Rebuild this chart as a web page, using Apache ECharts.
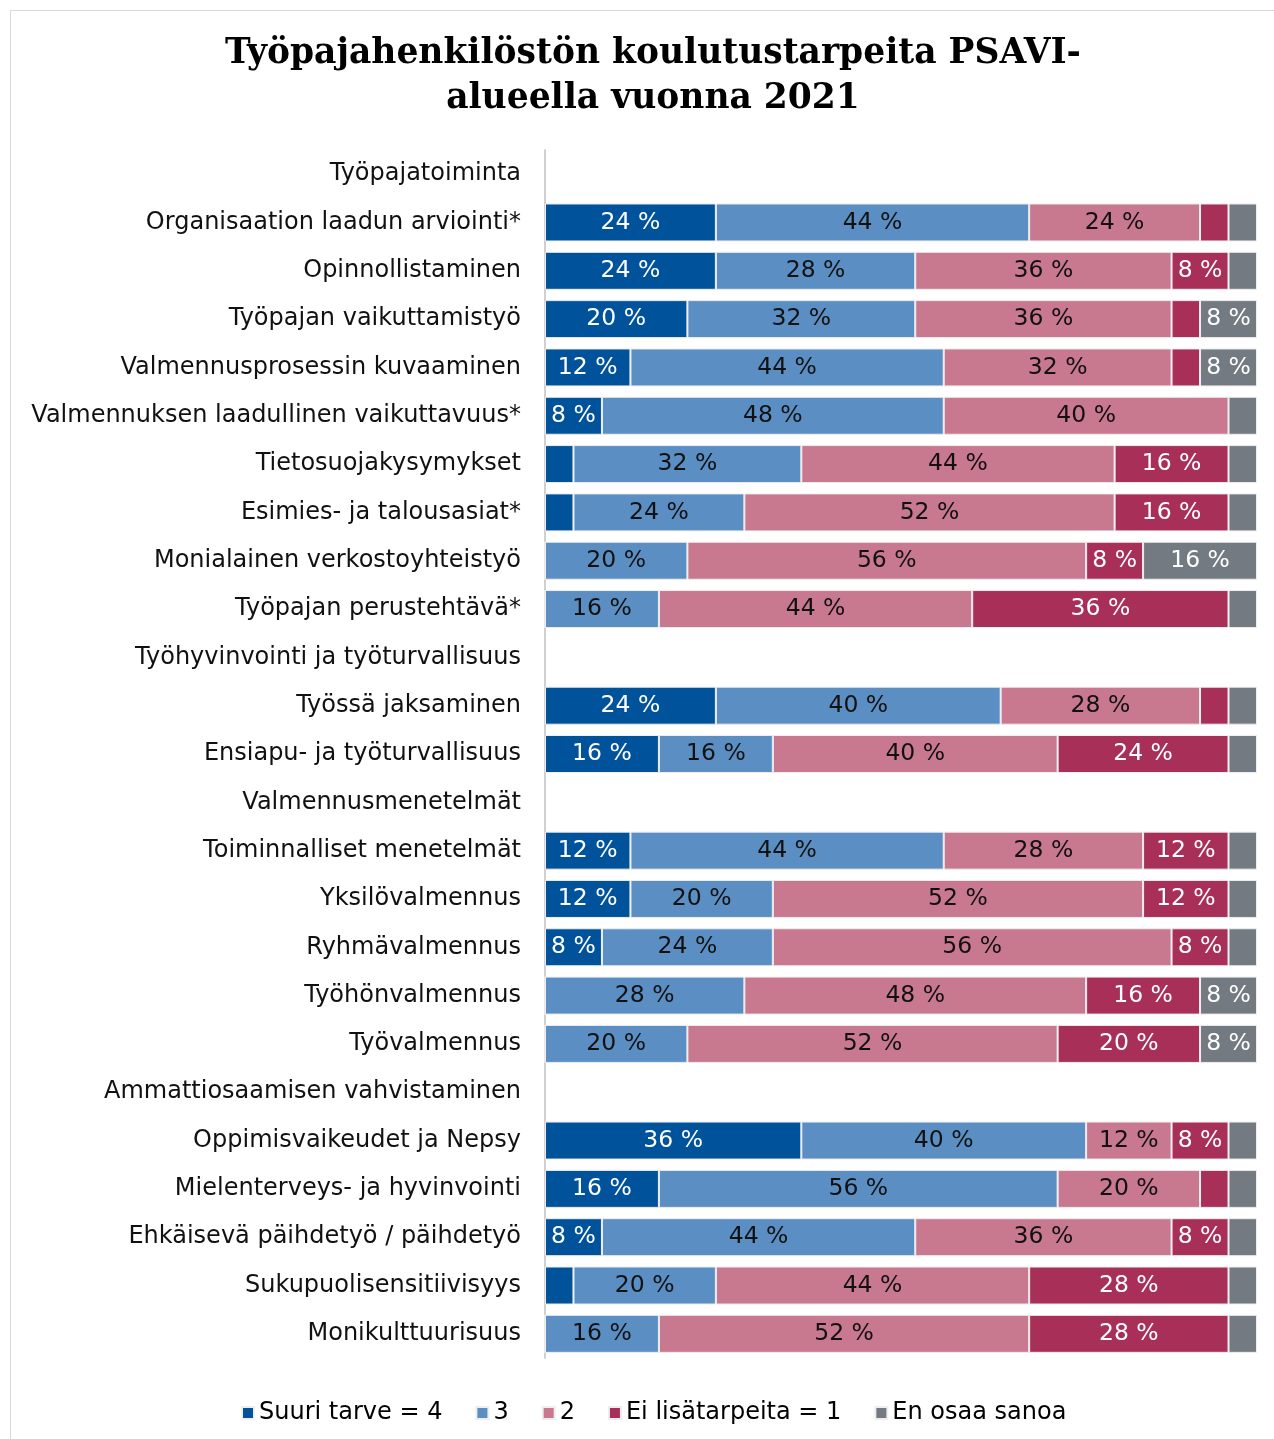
<!DOCTYPE html>
<html>
<head>
<meta charset="utf-8">
<script src="https://cdn.jsdelivr.net/npm/echarts@6/dist/echarts.min.js"></script>
<style>
	html, body { margin: 0; padding: 0; background: #fff; }
	#frame { position: absolute; left: 10px; top: 10px; width: 1280px; height: 1440px; border: 1px solid #d9d9d9; box-sizing: border-box; }
	#chart { position: absolute; left: 0; top: 0; width: 1274px; height: 1439px; }
</style>
</head>
<body>
<div id="frame"></div>
<div id="chart"></div>
<script>
// rows: headers have no values (null)
var categories = [
	"Työpajatoiminta",
	"Organisaation laadun arviointi*",
	"Opinnollistaminen",
	"Työpajan vaikuttamistyö",
	"Valmennusprosessin kuvaaminen",
	"Valmennuksen laadullinen vaikuttavuus*",
	"Tietosuojakysymykset",
	"Esimies- ja talousasiat*",
	"Monialainen verkostoyhteistyö",
	"Työpajan perustehtävä*",
	"Työhyvinvointi ja työturvallisuus",
	"Työssä jaksaminen",
	"Ensiapu- ja työturvallisuus",
	"Valmennusmenetelmät",
	"Toiminnalliset menetelmät",
	"Yksilövalmennus",
	"Ryhmävalmennus",
	"Työhönvalmennus",
	"Työvalmennus",
	"Ammattiosaamisen vahvistaminen",
	"Oppimisvaikeudet ja Nepsy",
	"Mielenterveys- ja hyvinvointi",
	"Ehkäisevä päihdetyö / päihdetyö",
	"Sukupuolisensitiivisyys",
	"Monikulttuurisuus"
];

var seriesNames = ["Suuri tarve = 4", "3", "2", "Ei lisätarpeita = 1", "En osaa sanoa"];

var tarve4 = [null, 24, 24, 20, 12, 8, 4, 4, 0, 0, null, 24, 16, null, 12, 12, 8, 0, 0, null, 36, 16, 8, 4, 0];
var tarve3 = [null, 44, 28, 32, 44, 48, 32, 24, 20, 16, null, 40, 16, null, 44, 20, 24, 28, 20, null, 40, 56, 44, 20, 16];
var tarve2 = [null, 24, 36, 36, 32, 40, 44, 52, 56, 44, null, 28, 40, null, 28, 52, 56, 48, 52, null, 12, 20, 36, 44, 52];
var tarve1 = [null, 4, 8, 4, 4, 0, 16, 16, 8, 36, null, 4, 24, null, 12, 12, 8, 16, 20, null, 8, 4, 8, 28, 28];
var eos = [null, 4, 4, 8, 8, 4, 4, 4, 16, 4, null, 4, 4, null, 4, 4, 4, 8, 8, null, 4, 4, 4, 4, 4];

var colors = ["#00529b", "#5b8fc4", "#c8788f", "#a82f58", "#737a82"];
var labelColors = ["#ffffff", "#111111", "#111111", "#ffffff", "#ffffff"];

var chart = echarts.init(document.getElementById("chart"));

function makeSeries(idx, data) {
	return {
		name: seriesNames[idx],
		type: "bar",
		stack: "total",
		barWidth: 38,
		data: data,
		itemStyle: {
			color: colors[idx],
			borderColor: "#eeeeee",
			borderWidth: 1
		},
		label: {
			show: true,
			position: "inside",
			color: labelColors[idx],
			fontFamily: "DejaVu Sans",
			fontSize: 23.5,
			formatter: function (p) {
				if (p.value == null || p.value < 8) {
					return "";
				}
				return p.value + " %";
			}
		}
	};
}

var option = {
	animation: false,
	color: colors,
	title: {
		text: "Työpajahenkilöstön koulutustarpeita PSAVI-\nalueella vuonna 2021",
		left: 648,
		textAlign: "center",
		top: 27,
		textStyle: {
			fontFamily: "DejaVu Serif",
			fontWeight: "bold",
			fontSize: 34.5,
			lineHeight: 45,
			color: "#000"
		}
	},
	legend: {
		left: 236,
		top: 1396,
		icon: "rect",
		itemWidth: 12,
		itemHeight: 12,
		itemGap: 33,
		textStyle: {
			fontFamily: "DejaVu Sans",
			fontSize: 24,
			color: "#000"
		},
		data: seriesNames
	},
	grid: {
		left: 545,
		right: 17,
		top: 150,
		bottom: 81
	},
	xAxis: {
		type: "value",
		min: 0,
		max: 100,
		show: false
	},
	yAxis: {
		type: "category",
		inverse: true,
		data: categories,
		axisLine: {
			show: true,
			lineStyle: { color: "#d0d0d0", width: 2 }
		},
		axisTick: { show: false },
		axisLabel: {
			margin: 24,
			fontFamily: "DejaVu Sans",
			fontSize: 24,
			color: "#111"
		}
	},
	series: [
		makeSeries(0, tarve4),
		makeSeries(1, tarve3),
		makeSeries(2, tarve2),
		makeSeries(3, tarve1),
		makeSeries(4, eos)
	]
};

chart.setOption(option);
</script>
</body>
</html>
